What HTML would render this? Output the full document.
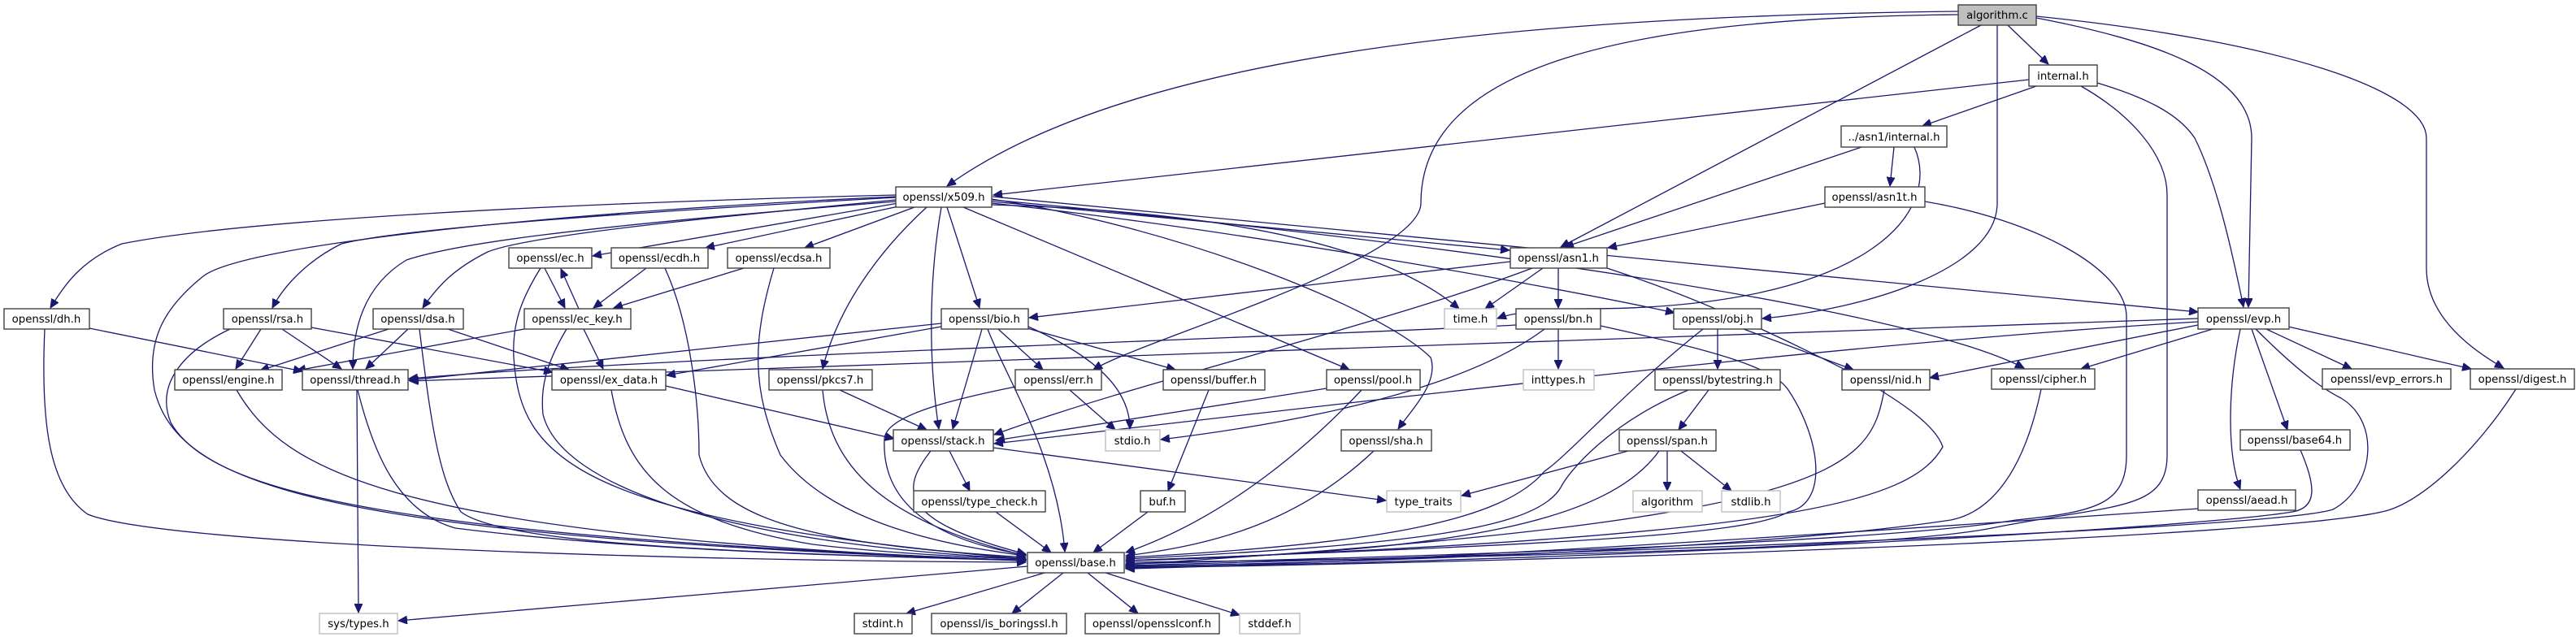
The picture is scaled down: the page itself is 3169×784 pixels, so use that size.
<!DOCTYPE html>
<html><head><meta charset="utf-8"><style>
html,body{margin:0;padding:0;background:#fff}
svg{display:block}
text{font-family:"DejaVu Sans","Liberation Sans",sans-serif;font-size:13.3px;fill:#000;text-anchor:middle}
.n{fill:#fff;stroke:#404040;stroke-width:1.4}
.g{fill:#fff;stroke:#bfbfbf;stroke-width:1.4}
.e path{fill:none;stroke:#191970;stroke-width:1.3;marker-end:url(#a)}
</style></head><body>
<svg width="3169" height="784" viewBox="0 0 3169 784" xmlns="http://www.w3.org/2000/svg">
<defs><marker id="a" markerUnits="userSpaceOnUse" markerWidth="12" markerHeight="10" refX="11" refY="5" orient="auto"><path d="M0,0 L11,5 L0,10 z" fill="#191970" stroke="#191970"/></marker></defs>
<g class="e">
<path d="M2409,14 C1900,20 1400,60 1165,229"/>
<path d="M2409,18 C2000,22 1748,80 1748,250 C1748,320 1400,420 1345,455"/>
<path d="M2437,31 L1920,304"/>
<path d="M2470,31 L2520,79"/>
<path d="M2505,22 C2650,50 2770,90 2770,170 L2766,378"/>
<path d="M2505,20 C2800,50 2985,110 2985,170 L2985,330 C2985,390 3040,430 3080,453"/>
<path d="M2457,31 L2457,250 C2457,330 2300,380 2168,392"/>
<path d="M2496,98 L1222,240"/>
<path d="M2505,106 L2365,155"/>
<path d="M2580,102 C2640,120 2680,140 2700,170 C2730,230 2750,330 2760,378"/>
<path d="M2560,106 C2620,140 2666,190 2666,240 L2666,560 C2666,630 2600,620 2450,650 C2300,680 1600,690 1385,692"/>
<path d="M2330,181 L2325,229"/>
<path d="M2290,181 L1925,304"/>
<path d="M2355,181 C2390,260 2300,380 1950,380 C1900,380 1860,385 1842,392"/>
<path d="M2245,250 L1978,305"/>
<path d="M2368,248 C2500,270 2616,330 2616,390 L2616,560 C2616,620 2580,630 2480,640 C2300,670 1700,686 1385,694"/>
<path d="M1102,240 C700,250 300,270 150,300 C100,320 80,350 62,379"/>
<path d="M1102,243 C800,260 500,280 420,300 C380,320 350,350 335,379"/>
<path d="M1102,246 C850,270 650,290 600,310 C560,330 540,350 520,379"/>
<path d="M1105,250 L729,315"/>
<path d="M1110,253 L868,305"/>
<path d="M1125,255 L990,305"/>
<path d="M1102,248 C700,280 560,300 500,320 C450,350 434,400 434,454"/>
<path d="M1102,242 C700,260 300,300 250,340 C200,380 180,420 190,480 C220,600 400,660 1262,690"/>
<path d="M1165,255 L1205,379"/>
<path d="M1140,255 C1080,310 1030,380 1012,454"/>
<path d="M1158,255 C1145,330 1140,430 1155,528"/>
<path d="M1220,248 L1857,308"/>
<path d="M1220,252 C1500,260 1700,300 1795,380"/>
<path d="M1220,250 C1500,280 1900,350 2060,385"/>
<path d="M1185,255 L1660,455"/>
<path d="M1220,245 C1450,280 1700,380 1760,440 C1770,470 1740,500 1720,528"/>
<path d="M1221,242 L2704,384"/>
<path d="M1221,246 C1800,300 2350,380 2490,453"/>
<path d="M670,330 L695,379"/>
<path d="M712,380 L690,331"/>
<path d="M665,330 C640,370 630,400 632,440 C640,560 700,640 1262,688"/>
<path d="M795,330 L730,379"/>
<path d="M915,330 L755,379"/>
<path d="M818,330 C850,400 860,500 860,560 C880,640 1000,670 1262,686"/>
<path d="M952,330 C925,420 925,480 960,560 C1020,640 1150,670 1262,684"/>
<path d="M645,405 L365,456"/>
<path d="M718,405 L742,454"/>
<path d="M697,405 C670,450 665,480 668,510 C690,600 900,670 1262,688"/>
<path d="M110,404 L372,457"/>
<path d="M55,405 C50,520 60,600 108,633 C200,670 800,690 1262,692"/>
<path d="M321,405 L290,454"/>
<path d="M347,405 L420,454"/>
<path d="M383,403 L680,458"/>
<path d="M283,405 C230,430 190,470 210,520 C260,610 500,660 1262,690"/>
<path d="M478,405 L320,456"/>
<path d="M502,405 L450,454"/>
<path d="M551,405 L700,455"/>
<path d="M516,405 C530,520 540,590 567,630 C620,670 900,680 1262,690"/>
<path d="M291,480 C350,580 480,660 1262,690"/>
<path d="M439,480 L441,754"/>
<path d="M440,480 C460,560 490,630 560,650 C800,680 1100,686 1262,689"/>
<path d="M819,475 L1100,540"/>
<path d="M752,480 C770,580 820,640 1000,670 C1100,682 1200,686 1262,688"/>
<path d="M1158,398 L503,468"/>
<path d="M1158,402 L820,462"/>
<path d="M1228,405 L1283,455"/>
<path d="M1260,403 L1446,455"/>
<path d="M1265,402 C1350,440 1390,480 1390,528"/>
<path d="M1208,405 L1172,528"/>
<path d="M1215,405 C1240,470 1300,560 1310,679"/>
<path d="M1033,480 L1140,529"/>
<path d="M1012,480 C1020,570 1080,640 1262,684"/>
<path d="M1316,480 L1372,529"/>
<path d="M1249,476 C1180,490 1090,510 1088,540 C1085,600 1120,660 1262,683"/>
<path d="M1487,480 L1437,604"/>
<path d="M1412,630 L1345,680"/>
<path d="M1632,478 L1225,542"/>
<path d="M1675,480 C1600,560 1500,640 1385,680"/>
<path d="M1690,555 C1600,640 1500,670 1385,684"/>
<path d="M1168,555 L1193,604"/>
<path d="M1222,551 L1705,616"/>
<path d="M1145,555 C1110,600 1100,640 1262,682"/>
<path d="M1225,630 L1293,680"/>
<path d="M1865,400 C1700,410 800,440 503,466"/>
<path d="M1917,405 L1917,454"/>
<path d="M1900,405 C1800,480 1600,520 1428,541"/>
<path d="M1969,401 C2100,430 2180,450 2200,480 C2240,540 2250,620 2200,630 C2150,660 1900,670 1385,690"/>
<path d="M1858,322 L1266,391"/>
<path d="M1898,330 L1827,380"/>
<path d="M1917,330 L1917,379"/>
<path d="M1885,330 C1700,400 1400,470 1223,535"/>
<path d="M1977,330 C2100,370 2200,420 2280,460 C2330,490 2380,520 2390,550 C2350,620 2200,660 1385,690"/>
<path d="M2113,405 L2113,454"/>
<path d="M2145,405 L2280,455"/>
<path d="M2095,405 C2000,480 1930,560 1900,580 C1850,640 1700,670 1385,686"/>
<path d="M2102,480 L2065,529"/>
<path d="M2077,480 C1980,520 1930,580 1920,600 C1890,650 1750,670 1385,688"/>
<path d="M2003,555 L1798,610"/>
<path d="M2051,555 L2051,604"/>
<path d="M2068,555 L2130,604"/>
<path d="M2041,555 C1980,640 1800,680 1385,690"/>
<path d="M2318,480 C2300,580 2260,640 1385,695"/>
<path d="M2704,392 L504,469"/>
<path d="M2722,405 L2560,454"/>
<path d="M2704,400 L2374,465"/>
<path d="M2788,405 L2893,454"/>
<path d="M2815,402 L3040,454"/>
<path d="M2770,405 L2814,529"/>
<path d="M2756,405 C2740,480 2740,560 2756,602"/>
<path d="M2775,405 C2830,460 2860,480 2880,490 C2930,520 2920,600 2870,627 C2800,650 2000,680 1385,696"/>
<path d="M2704,396 C2300,420 1800,480 1223,546"/>
<path d="M2511,479 C2490,580 2450,630 2400,640 C2200,670 1800,690 1385,697"/>
<path d="M3095,479 C3050,550 2980,620 2930,630 C2800,660 2000,690 1385,699"/>
<path d="M2830,554 C2850,600 2850,625 2820,630 C2700,650 2000,690 1385,698"/>
<path d="M2704,626 C2500,640 1800,690 1385,700"/>
<path d="M1264,697 L490,764"/>
<path d="M1285,705 L1115,755"/>
<path d="M1308,705 L1245,755"/>
<path d="M1338,705 L1400,755"/>
<path d="M1360,705 L1525,757"/>
</g>
<g>
<rect x="2409" y="6" width="96" height="25" fill="#bfbfbf" stroke="#404040" stroke-width="1.4"/><text x="2457" y="23">algorithm.c</text>
<rect class="n" x="2496" y="80" width="84" height="26"/><text x="2538" y="98">internal.h</text>
<rect class="n" x="2265" y="155" width="130" height="26"/><text x="2330" y="173">../asn1/internal.h</text>
<rect class="n" x="1102" y="230" width="118" height="25"/><text x="1161" y="247">openssl/x509.h</text>
<rect class="n" x="2245" y="230" width="123" height="25"/><text x="2306" y="247">openssl/asn1t.h</text>
<rect class="n" x="1858" y="305" width="119" height="25"/><text x="1917" y="322">openssl/asn1.h</text>
<rect class="n" x="626" y="305" width="102" height="25"/><text x="677" y="322">openssl/ec.h</text>
<rect class="n" x="752" y="305" width="119" height="25"/><text x="811" y="322">openssl/ecdh.h</text>
<rect class="n" x="895" y="305" width="126" height="25"/><text x="958" y="322">openssl/ecdsa.h</text>
<rect class="n" x="5" y="380" width="105" height="25"/><text x="57" y="397">openssl/dh.h</text>
<rect class="n" x="275" y="380" width="108" height="25"/><text x="329" y="397">openssl/rsa.h</text>
<rect class="n" x="459" y="380" width="111" height="25"/><text x="514" y="397">openssl/dsa.h</text>
<rect class="n" x="645" y="380" width="131" height="25"/><text x="710" y="397">openssl/ec_key.h</text>
<rect class="n" x="1158" y="380" width="107" height="25"/><text x="1211" y="397">openssl/bio.h</text>
<rect class="g" x="1777" y="380" width="64" height="25"/><text x="1809" y="397">time.h</text>
<rect class="n" x="1865" y="380" width="104" height="25"/><text x="1917" y="397">openssl/bn.h</text>
<rect class="n" x="2059" y="380" width="108" height="25"/><text x="2113" y="397">openssl/obj.h</text>
<rect class="n" x="2704" y="379" width="112" height="26"/><text x="2760" y="397">openssl/evp.h</text>
<rect class="n" x="215" y="455" width="132" height="25"/><text x="281" y="472">openssl/engine.h</text>
<rect class="n" x="372" y="455" width="130" height="25"/><text x="437" y="472">openssl/thread.h</text>
<rect class="n" x="679" y="455" width="140" height="25"/><text x="749" y="472">openssl/ex_data.h</text>
<rect class="n" x="946" y="455" width="127" height="25"/><text x="1009" y="472">openssl/pkcs7.h</text>
<rect class="n" x="1249" y="455" width="106" height="25"/><text x="1302" y="472">openssl/err.h</text>
<rect class="n" x="1431" y="455" width="125" height="25"/><text x="1493" y="472">openssl/buffer.h</text>
<rect class="n" x="1632" y="455" width="115" height="25"/><text x="1689" y="472">openssl/pool.h</text>
<rect class="g" x="1874" y="455" width="87" height="25"/><text x="1917" y="472">inttypes.h</text>
<rect class="n" x="2036" y="455" width="154" height="25"/><text x="2113" y="472">openssl/bytestring.h</text>
<rect class="n" x="2266" y="455" width="108" height="25"/><text x="2320" y="472">openssl/nid.h</text>
<rect class="n" x="2450" y="454" width="127" height="25"/><text x="2513" y="471">openssl/cipher.h</text>
<rect class="n" x="2857" y="454" width="158" height="25"/><text x="2936" y="471">openssl/evp_errors.h</text>
<rect class="n" x="3039" y="454" width="128" height="25"/><text x="3103" y="471">openssl/digest.h</text>
<rect class="n" x="1099" y="529" width="123" height="26"/><text x="1160" y="547">openssl/stack.h</text>
<rect class="g" x="1360" y="529" width="67" height="26"/><text x="1393" y="547">stdio.h</text>
<rect class="n" x="1650" y="529" width="111" height="26"/><text x="1705" y="547">openssl/sha.h</text>
<rect class="n" x="1992" y="529" width="119" height="26"/><text x="2051" y="547">openssl/span.h</text>
<rect class="n" x="2756" y="529" width="135" height="25"/><text x="2823" y="546">openssl/base64.h</text>
<rect class="n" x="1124" y="604" width="162" height="26"/><text x="1205" y="622">openssl/type_check.h</text>
<rect class="n" x="1403" y="604" width="55" height="26"/><text x="1430" y="622">buf.h</text>
<rect class="g" x="1706" y="604" width="91" height="26"/><text x="1751" y="622">type_traits</text>
<rect class="g" x="2009" y="604" width="85" height="26"/><text x="2051" y="622">algorithm</text>
<rect class="g" x="2118" y="604" width="72" height="26"/><text x="2154" y="622">stdlib.h</text>
<rect class="n" x="2704" y="603" width="120" height="25"/><text x="2764" y="620">openssl/aead.h</text>
<rect class="n" x="1264" y="680" width="119" height="25"/><text x="1323" y="697">openssl/base.h</text>
<rect class="g" x="393" y="755" width="96" height="25"/><text x="441" y="772">sys/types.h</text>
<rect class="n" x="1051" y="755" width="71" height="25"/><text x="1086" y="772">stdint.h</text>
<rect class="n" x="1146" y="755" width="166" height="25"/><text x="1229" y="772">openssl/is_boringssl.h</text>
<rect class="n" x="1335" y="755" width="165" height="25"/><text x="1417" y="772">openssl/opensslconf.h</text>
<rect class="g" x="1525" y="755" width="74" height="25"/><text x="1562" y="772">stddef.h</text>
</g>
</svg>
</body></html>
